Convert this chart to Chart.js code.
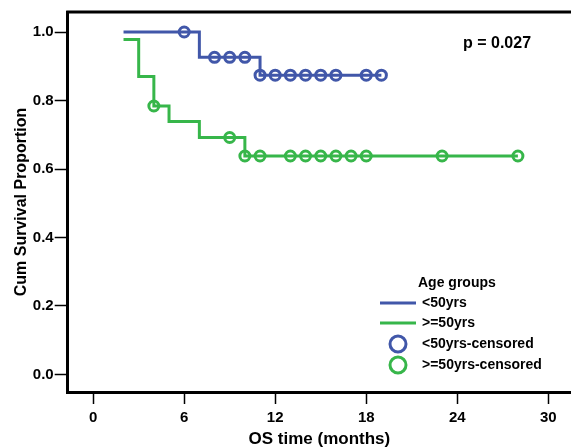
<!DOCTYPE html>
<html>
<head>
<meta charset="utf-8">
<title>Cum Survival Proportion by age group</title>
<script src="https://cdn.jsdelivr.net/npm/chart.js@4/dist/chart.umd.min.js"></script>
<style>
  html, body { margin: 0; padding: 0; background: #fff; }
  canvas { display: block; }
</style>
</head>
<body>
<canvas id="kmChart" width="571" height="448"></canvas>
<script>
// Kaplan-Meier steps (time in months, survival proportion)
const youngTimes = [2, 7, 11, 19];
const youngSurv = [1.0, 0.926, 0.874, 0.874];
const oldTimes = [2, 3, 4, 5, 7, 10, 28];
const oldSurv = [0.978, 0.870, 0.784, 0.739, 0.692, 0.638, 0.638];

// censored marks
const youngCensTimes = [6, 8, 9, 10, 11, 12, 13, 14, 15, 16, 18, 19];
const youngCensSurv = [1.0, 0.926, 0.926, 0.926, 0.874, 0.874, 0.874, 0.874, 0.874, 0.874, 0.874, 0.874];
const oldCensTimes = [4, 9, 10, 11, 13, 14, 15, 16, 17, 18, 23, 28];
const oldCensSurv = [0.784, 0.692, 0.638, 0.638, 0.638, 0.638, 0.638, 0.638, 0.638, 0.638, 0.638, 0.638];

const xTicks = [0, 6, 12, 18, 24, 30];
const yTicks = [0, 0.2, 0.4, 0.6, 0.8, 1.0];

const seriesLabels = ['<50yrs', '>=50yrs', '<50yrs-censored', '>=50yrs-censored'];
const legendTitle = 'Age groups';
const pText = 'p = 0.027';

const BLUE = '#4157A9';
const GREEN = '#37B64A';
const FONT = "'Liberation Sans', Arial, sans-serif";

const pts = (xs, ys) => xs.map((x, i) => ({ x: x, y: ys[i] }));

// top frame line, legend and p value
const extras = {
  id: 'extras',
  afterDatasetsDraw(chart) {
    const ctx = chart.ctx;
    const a = chart.chartArea;
    ctx.save();
    ctx.strokeStyle = '#000';
    ctx.lineWidth = 3;
    ctx.beginPath();
    ctx.moveTo(a.left - 1.5, a.top);
    ctx.lineTo(chart.width, a.top);
    ctx.stroke();

    ctx.fillStyle = '#000';
    ctx.textBaseline = 'middle';
    ctx.font = 'bold 16px ' + FONT;
    ctx.fillText(pText, 463, 44);

    ctx.font = 'bold 14px ' + FONT;
    ctx.fillText(legendTitle, 418, 283);
    const rows = [303, 323, 344, 365];
    const cols = [BLUE, GREEN, BLUE, GREEN];
    rows.forEach((y, i) => {
      ctx.strokeStyle = cols[i];
      ctx.lineWidth = 3;
      ctx.beginPath();
      if (i < 2) {
        ctx.moveTo(380, y);
        ctx.lineTo(416, y);
      } else {
        ctx.arc(398, y, 8, 0, Math.PI * 2);
      }
      ctx.stroke();
      ctx.fillStyle = '#000';
      ctx.fillText(seriesLabels[i], 422, y);
    });
    ctx.restore();
  }
};

new Chart(document.getElementById('kmChart'), {
  type: 'line',
  data: {
    datasets: [
      {
        label: seriesLabels[0],
        data: pts(youngTimes, youngSurv),
        borderColor: BLUE, borderWidth: 3, stepped: 'before',
        pointRadius: 0, fill: false
      },
      {
        label: seriesLabels[1],
        data: pts(oldTimes, oldSurv),
        borderColor: GREEN, borderWidth: 3, stepped: 'before',
        pointRadius: 0, fill: false
      },
      {
        label: seriesLabels[2],
        data: pts(youngCensTimes, youngCensSurv),
        showLine: false, pointStyle: 'circle', pointRadius: 5,
        pointBorderWidth: 3, pointBorderColor: BLUE, pointBackgroundColor: 'rgba(0,0,0,0)'
      },
      {
        label: seriesLabels[3],
        data: pts(oldCensTimes, oldCensSurv),
        showLine: false, pointStyle: 'circle', pointRadius: 5,
        pointBorderWidth: 3, pointBorderColor: GREEN, pointBackgroundColor: 'rgba(0,0,0,0)'
      }
    ]
  },
  options: {
    responsive: false,
    animation: false,
    devicePixelRatio: 1,
    layout: { autoPadding: false, padding: { top: 12, left: 0, right: 0, bottom: 0 } },
    plugins: { legend: { display: false }, tooltip: { enabled: false } },
    scales: {
      x: {
        type: 'linear',
        min: -1.68, max: 31.5,
        afterFit: (s) => { s.height = 56; s.paddingLeft = 0; s.paddingRight = 0; },
        afterBuildTicks: (s) => { s.ticks = xTicks.map(v => ({ value: v })); },
        grid: { drawOnChartArea: false, drawTicks: true, tickLength: 12, tickWidth: 1.5, tickColor: '#000' },
        border: { display: true, color: '#000', width: 3 },
        ticks: { color: '#000', padding: 5, maxRotation: 0, font: { family: FONT, size: 15, weight: 'bold' } },
        title: {
          display: true, text: 'OS time (months)', color: '#000',
          font: { family: FONT, size: 17, weight: 'bold', lineHeight: 1 },
          padding: { top: 0, bottom: 0.5 }
        }
      },
      y: {
        type: 'linear',
        min: -0.0511, max: 1.0584,
        afterFit: (s) => { s.width = 67.7; s.paddingTop = 0; s.paddingBottom = 0; },
        afterBuildTicks: (s) => { s.ticks = yTicks.map(v => ({ value: v })); },
        grid: { drawOnChartArea: false, drawTicks: true, tickLength: 13, tickWidth: 1.5, tickColor: '#000' },
        border: { display: true, color: '#000', width: 3 },
        ticks: {
          color: '#000', padding: 1,
          font: { family: FONT, size: 15, weight: 'bold' },
          callback: (v) => Number(v).toFixed(1)
        },
        title: {
          display: true, text: 'Cum Survival Proportion', color: '#000',
          font: { family: FONT, size: 16, weight: 'bold', lineHeight: 1 },
          padding: { top: 14, bottom: 0 }
        }
      }
    }
  },
  plugins: [extras]
});
</script>
</body>
</html>
